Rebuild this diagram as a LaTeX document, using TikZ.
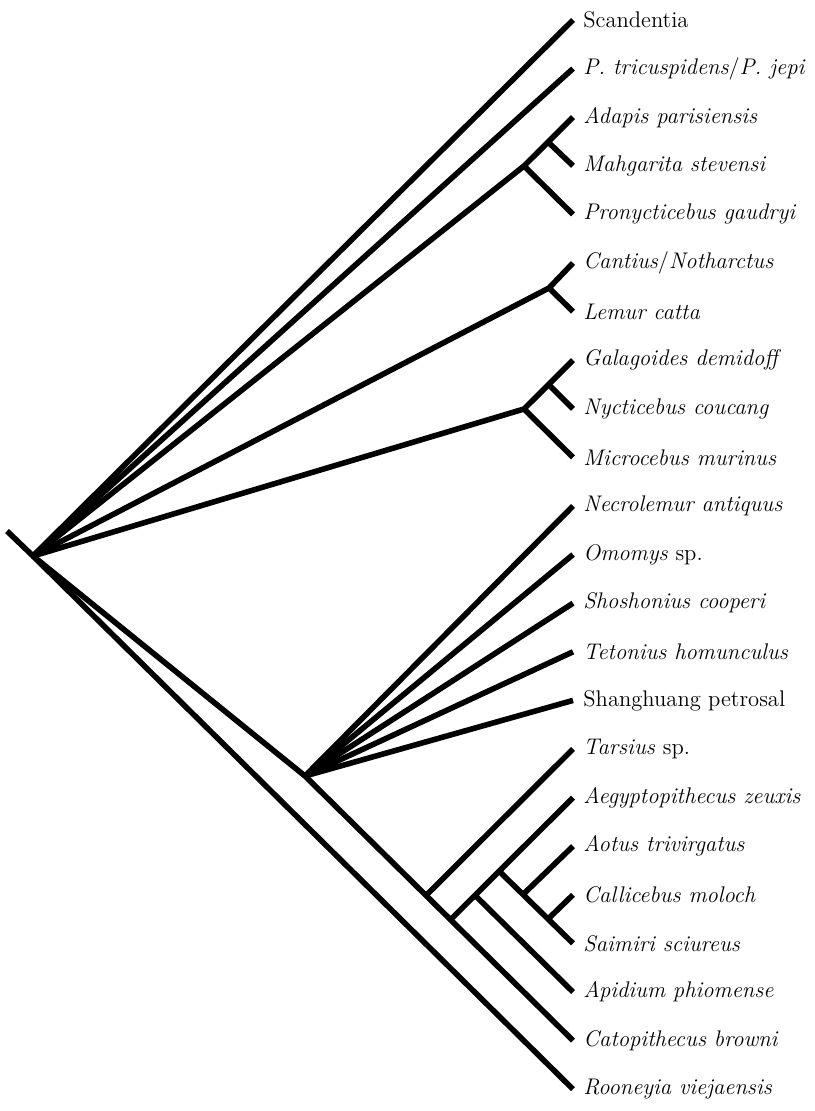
\documentclass[tikz,border=0pt]{standalone}
\usepackage{tikz}

\begin{document}
\begin{tikzpicture}[
        x=0.5pt, y=-0.5pt,
        branch/.style={line width=2.8pt, black},
        taxon/.style={anchor=west, inner xsep=5pt, inner ysep=0pt,
                      font=\fontsize{11.3}{13}\selectfont\itshape},
    ]
        \useasboundingbox (0,0) rectangle (814,1111);

        \coordinate (stub) at (7,531);
        \coordinate (root) at (33,556);

        \coordinate (scand) at (573,20);
        \coordinate (plesi) at (573,68.6);
        \coordinate (adap) at (573,117.2);
        \coordinate (mahg) at (573,165.8);
        \coordinate (prony) at (573,214.4);
        \coordinate (cant) at (573,263);
        \coordinate (lemur) at (573,311.6);
        \coordinate (galag) at (573,360.2);
        \coordinate (nyct) at (573,408.8);
        \coordinate (micro) at (573,457.4);
        \coordinate (necro) at (573,506);
        \coordinate (omom) at (573,554.6);
        \coordinate (shosh) at (573,603.2);
        \coordinate (teton) at (573,651.8);
        \coordinate (shang) at (573,700.4);
        \coordinate (tars) at (573,749);
        \coordinate (aegyp) at (573,797.6);
        \coordinate (aotus) at (573,846.2);
        \coordinate (calli) at (573,894.8);
        \coordinate (saim) at (573,943.4);
        \coordinate (apid) at (573,992);
        \coordinate (catop) at (573,1040.6);
        \coordinate (roon) at (573,1089.2);

        \coordinate (adapA) at (524,166);
        \coordinate (adapB) at (548,142);
        \coordinate (cantA) at (549,288);
        \coordinate (galA) at (524,409);
        \coordinate (galB) at (548,384);

        \coordinate (omoA) at (305,776);
        \coordinate (tarA) at (426,895.5);
        \coordinate (anthA) at (450.5,919.7);
        \coordinate (apidA) at (475,895.3);
        \coordinate (platA) at (499,871);
        \coordinate (platB) at (523,894.5);
        \coordinate (platC) at (548,919);

        \node[taxon, font=\fontsize{11.3}{13}\selectfont] (lscand) at (scand) {Scandentia};
        \node[taxon] (lplesi) at (plesi) {P. tricuspidens{\upshape/}P. jepi};
        \node[taxon] (ladap) at (adap) {Adapis parisiensis};
        \node[taxon] (lmahg) at (mahg) {Mahgarita stevensi};
        \node[taxon] (lprony) at (prony) {Pronycticebus gaudryi};
        \node[taxon] (lcant) at (cant) {Cantius{\upshape/}Notharctus};
        \node[taxon] (llemur) at (lemur) {Lemur catta};
        \node[taxon] (lgalag) at (galag) {Galagoides demidoff};
        \node[taxon] (lnyct) at (nyct) {Nycticebus coucang};
        \node[taxon] (lmicro) at (micro) {Microcebus murinus};
        \node[taxon] (lnecro) at (necro) {Necrolemur antiquus};
        \node[taxon] (lomom) at (omom) {Omomys \upshape sp.};
        \node[taxon] (lshosh) at (shosh) {Shoshonius cooperi};
        \node[taxon] (lteton) at (teton) {Tetonius homunculus};
        \node[taxon, font=\fontsize{11.3}{13}\selectfont] (lshang) at (shang) {Shanghuang petrosal};
        \node[taxon] (ltars) at (tars) {Tarsius \upshape sp.};
        \node[taxon] (laegyp) at (aegyp) {Aegyptopithecus zeuxis};
        \node[taxon] (laotus) at (aotus) {Aotus trivirgatus};
        \node[taxon] (lcalli) at (calli) {Callicebus moloch};
        \node[taxon] (lsaim) at (saim) {Saimiri sciureus};
        \node[taxon] (lapid) at (apid) {Apidium phiomense};
        \node[taxon] (lcatop) at (catop) {Catopithecus browni};
        \node[taxon] (lroon) at (roon) {Rooneyia viejaensis};

        \draw[branch] (stub) -- (root) -- (roon);
        \draw[branch] (root) -- (scand);
        \draw[branch] (root) -- (plesi);
        \draw[branch] (root) -- (adapA) -- (adap);
        \draw[branch] (adapB) -- (mahg);
        \draw[branch] (adapA) -- (prony);
        \draw[branch] (root) -- (cantA) -- (cant);
        \draw[branch] (cantA) -- (lemur);
        \draw[branch] (root) -- (galA) -- (galag);
        \draw[branch] (galB) -- (nyct);
        \draw[branch] (galA) -- (micro);

        \draw[branch] (root) -- (omoA) -- (catop);
        \draw[branch] (omoA) -- (necro);
        \draw[branch] (omoA) -- (omom);
        \draw[branch] (omoA) -- (shosh);
        \draw[branch] (omoA) -- (teton);
        \draw[branch] (omoA) -- (shang);
        \draw[branch] (tarA) -- (tars);
        \draw[branch] (anthA) -- (aegyp);
        \draw[branch] (apidA) -- (apid);
        \draw[branch] (platA) -- (saim);
        \draw[branch] (platB) -- (aotus);
        \draw[branch] (platC) -- (calli);
    \end{tikzpicture}
\end{document}
